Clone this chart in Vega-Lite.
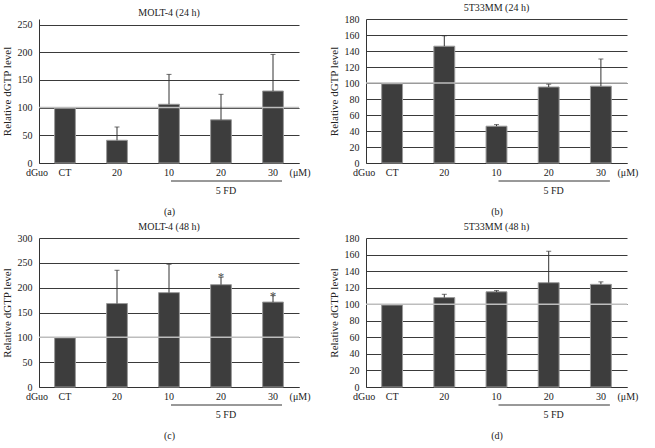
{
  "$schema": "https://vega.github.io/schema/vega-lite/v6.json",
  "background": "white",
  "padding": {"left": 1, "top": 3, "right": 5, "bottom": 5},
  "columns": 2,
  "spacing": {"row": 6, "column": 17},
  "datasets": {
    "a": [
      {"id": "CT", "v": 99},
      {"id": "dG20", "v": 41, "hi": 65},
      {"id": "FD10", "v": 106, "hi": 160},
      {"id": "FD20", "v": 78, "hi": 124},
      {"id": "FD30", "v": 130, "hi": 196}
    ],
    "b": [
      {"id": "CT", "v": 99},
      {"id": "dG20", "v": 146, "hi": 159},
      {"id": "FD10", "v": 46, "hi": 48},
      {"id": "FD20", "v": 95, "hi": 98.5},
      {"id": "FD30", "v": 96, "hi": 130}
    ],
    "c": [
      {"id": "CT", "v": 99},
      {"id": "dG20", "v": 168, "hi": 235},
      {"id": "FD10", "v": 190, "hi": 247},
      {"id": "FD20", "v": 206, "hi": 221, "sig": "*"},
      {"id": "FD30", "v": 171, "hi": 184, "sig": "*"}
    ],
    "d": [
      {"id": "CT", "v": 99},
      {"id": "dG20", "v": 108, "hi": 112},
      {"id": "FD10", "v": 115, "hi": 116.5},
      {"id": "FD20", "v": 126, "hi": 164},
      {"id": "FD30", "v": 124, "hi": 127}
    ]
  },
  "concat": [
    {
      "width": 260, "height": 144,
      "title": {"text": "MOLT-4 (24 h)"},
      "layer": [
        {"data": {"name": "a"}, "mark": {"type": "bar", "fill": "#3d3d3d", "stroke": "#9a9a9a", "strokeWidth": 1},
         "encoding": {
           "x": {"field": "id", "type": "nominal", "sort": null, "scale": {"domain": ["CT", "dG20", "FD10", "FD20", "FD30"], "paddingInner": 0.6, "paddingOuter": 0.3},
                 "axis": {"title": "(a)", "labelAngle": 0, "labelPadding": 4, "titlePadding": 29, "labelExpr": "replace(replace(datum.value,'dG',''),'FD','')"}},
           "y": {"field": "v", "type": "quantitative", "scale": {"domain": [0, 250]},
                 "axis": {"title": "Relative dGTP level", "values": [0, 50, 100, 150, 200, 250], "grid": true, "labelPadding": 7, "titlePadding": 5, "titleFontSize": 11}}
         }},
        {"data": {"values": [{"ref": 100}]}, "mark": {"type": "rule", "color": "#bdbdbd", "strokeWidth": 1.5},
         "encoding": {"y": {"field": "ref", "type": "quantitative", "axis": {"title": "Relative dGTP level", "values": [0, 50, 100, 150, 200, 250], "grid": true, "labelPadding": 7, "titlePadding": 5, "titleFontSize": 11}}}},
        {"data": {"name": "a"}, "transform": [{"filter": "isValid(datum.hi)"}], "mark": {"type": "rule", "color": "#333"},
         "encoding": {
           "x": {"field": "id", "type": "nominal", "axis": {"title": "(a)", "labelAngle": 0, "labelPadding": 4, "titlePadding": 29, "labelExpr": "replace(replace(datum.value,'dG',''),'FD','')"}},
           "y": {"field": "v", "type": "quantitative", "axis": {"title": "Relative dGTP level", "values": [0, 50, 100, 150, 200, 250], "grid": true, "labelPadding": 7, "titlePadding": 5, "titleFontSize": 11}},
           "y2": {"field": "hi"}}},
        {"data": {"name": "a"}, "transform": [{"filter": "isValid(datum.hi)"}], "mark": {"type": "tick", "orient": "horizontal", "color": "#333", "size": 5, "thickness": 1},
         "encoding": {
           "x": {"field": "id", "type": "nominal", "axis": {"title": "(a)", "labelAngle": 0, "labelPadding": 4, "titlePadding": 29, "labelExpr": "replace(replace(datum.value,'dG',''),'FD','')"}},
           "y": {"field": "hi", "type": "quantitative", "axis": {"title": "Relative dGTP level", "values": [0, 50, 100, 150, 200, 250], "grid": true, "labelPadding": 7, "titlePadding": 5, "titleFontSize": 11}}}},
        {"data": {"values": [{"t": "dGuo"}]}, "mark": {"type": "text", "dx": -28, "dy": 10, "baseline": "middle"},
         "encoding": {
           "x": {"datum": "CT", "type": "nominal", "axis": {"title": "(a)", "labelAngle": 0, "labelPadding": 4, "titlePadding": 29, "labelExpr": "replace(replace(datum.value,'dG',''),'FD','')"}},
           "y": {"datum": 0, "type": "quantitative", "axis": {"title": "Relative dGTP level", "values": [0, 50, 100, 150, 200, 250], "grid": true, "labelPadding": 7, "titlePadding": 5, "titleFontSize": 11}},
           "text": {"field": "t"}}},
        {"data": {"values": [{"t": "(μM)"}]}, "mark": {"type": "text", "dx": 27, "dy": 10, "baseline": "middle"},
         "encoding": {
           "x": {"datum": "FD30", "type": "nominal", "axis": {"title": "(a)", "labelAngle": 0, "labelPadding": 4, "titlePadding": 29, "labelExpr": "replace(replace(datum.value,'dG',''),'FD','')"}},
           "y": {"datum": 0, "type": "quantitative", "axis": {"title": "Relative dGTP level", "values": [0, 50, 100, 150, 200, 250], "grid": true, "labelPadding": 7, "titlePadding": 5, "titleFontSize": 11}},
           "text": {"field": "t"}}},
        {"data": {"values": [{"t": "5 FD"}]}, "mark": {"type": "rule", "color": "#333", "xOffset": 2, "x2Offset": 9, "yOffset": 18},
         "encoding": {
           "x": {"datum": "FD10", "type": "nominal", "axis": {"title": "(a)", "labelAngle": 0, "labelPadding": 4, "titlePadding": 29, "labelExpr": "replace(replace(datum.value,'dG',''),'FD','')"}},
           "x2": {"datum": "FD30"},
           "y": {"datum": 0, "type": "quantitative", "axis": {"title": "Relative dGTP level", "values": [0, 50, 100, 150, 200, 250], "grid": true, "labelPadding": 7, "titlePadding": 5, "titleFontSize": 11}}}},
        {"data": {"values": [{"t": "5 FD"}]}, "mark": {"type": "text", "dx": 5, "dy": 28, "baseline": "middle"},
         "encoding": {
           "x": {"datum": "FD20", "type": "nominal", "axis": {"title": "(a)", "labelAngle": 0, "labelPadding": 4, "titlePadding": 29, "labelExpr": "replace(replace(datum.value,'dG',''),'FD','')"}},
           "y": {"datum": 0, "type": "quantitative", "axis": {"title": "Relative dGTP level", "values": [0, 50, 100, 150, 200, 250], "grid": true, "labelPadding": 7, "titlePadding": 5, "titleFontSize": 11}},
           "text": {"field": "t"}}}
      ]
    },
    {
      "width": 261, "height": 144,
      "title": {"text": "5T33MM (24 h)"},
      "layer": [
        {"data": {"name": "b"}, "mark": {"type": "bar", "fill": "#3d3d3d", "stroke": "#9a9a9a", "strokeWidth": 1},
         "encoding": {
           "x": {"field": "id", "type": "nominal", "sort": null, "scale": {"domain": ["CT", "dG20", "FD10", "FD20", "FD30"], "paddingInner": 0.6, "paddingOuter": 0.3},
                 "axis": {"title": "(b)", "labelAngle": 0, "labelPadding": 4, "titlePadding": 29, "labelExpr": "replace(replace(datum.value,'dG',''),'FD','')"}},
           "y": {"field": "v", "type": "quantitative", "scale": {"domain": [0, 180]},
                 "axis": {"title": "Relative dGTP level", "values": [0, 20, 40, 60, 80, 100, 120, 140, 160, 180], "grid": true, "labelPadding": 7, "titlePadding": 5, "titleFontSize": 11}}
         }},
        {"data": {"values": [{"ref": 100}]}, "mark": {"type": "rule", "color": "#bdbdbd", "strokeWidth": 1.5},
         "encoding": {"y": {"field": "ref", "type": "quantitative", "axis": {"title": "Relative dGTP level", "values": [0, 20, 40, 60, 80, 100, 120, 140, 160, 180], "grid": true, "labelPadding": 7, "titlePadding": 5, "titleFontSize": 11}}}},
        {"data": {"name": "b"}, "transform": [{"filter": "isValid(datum.hi)"}], "mark": {"type": "rule", "color": "#333"},
         "encoding": {
           "x": {"field": "id", "type": "nominal", "axis": {"title": "(b)", "labelAngle": 0, "labelPadding": 4, "titlePadding": 29, "labelExpr": "replace(replace(datum.value,'dG',''),'FD','')"}},
           "y": {"field": "v", "type": "quantitative", "axis": {"title": "Relative dGTP level", "values": [0, 20, 40, 60, 80, 100, 120, 140, 160, 180], "grid": true, "labelPadding": 7, "titlePadding": 5, "titleFontSize": 11}},
           "y2": {"field": "hi"}}},
        {"data": {"name": "b"}, "transform": [{"filter": "isValid(datum.hi)"}], "mark": {"type": "tick", "orient": "horizontal", "color": "#333", "size": 5, "thickness": 1},
         "encoding": {
           "x": {"field": "id", "type": "nominal", "axis": {"title": "(b)", "labelAngle": 0, "labelPadding": 4, "titlePadding": 29, "labelExpr": "replace(replace(datum.value,'dG',''),'FD','')"}},
           "y": {"field": "hi", "type": "quantitative", "axis": {"title": "Relative dGTP level", "values": [0, 20, 40, 60, 80, 100, 120, 140, 160, 180], "grid": true, "labelPadding": 7, "titlePadding": 5, "titleFontSize": 11}}}},
        {"data": {"values": [{"t": "dGuo"}]}, "mark": {"type": "text", "dx": -28, "dy": 10, "baseline": "middle"},
         "encoding": {
           "x": {"datum": "CT", "type": "nominal", "axis": {"title": "(b)", "labelAngle": 0, "labelPadding": 4, "titlePadding": 29, "labelExpr": "replace(replace(datum.value,'dG',''),'FD','')"}},
           "y": {"datum": 0, "type": "quantitative", "axis": {"title": "Relative dGTP level", "values": [0, 20, 40, 60, 80, 100, 120, 140, 160, 180], "grid": true, "labelPadding": 7, "titlePadding": 5, "titleFontSize": 11}},
           "text": {"field": "t"}}},
        {"data": {"values": [{"t": "(μM)"}]}, "mark": {"type": "text", "dx": 27, "dy": 10, "baseline": "middle"},
         "encoding": {
           "x": {"datum": "FD30", "type": "nominal", "axis": {"title": "(b)", "labelAngle": 0, "labelPadding": 4, "titlePadding": 29, "labelExpr": "replace(replace(datum.value,'dG',''),'FD','')"}},
           "y": {"datum": 0, "type": "quantitative", "axis": {"title": "Relative dGTP level", "values": [0, 20, 40, 60, 80, 100, 120, 140, 160, 180], "grid": true, "labelPadding": 7, "titlePadding": 5, "titleFontSize": 11}},
           "text": {"field": "t"}}},
        {"data": {"values": [{"t": "5 FD"}]}, "mark": {"type": "rule", "color": "#333", "xOffset": 2, "x2Offset": 9, "yOffset": 18},
         "encoding": {
           "x": {"datum": "FD10", "type": "nominal", "axis": {"title": "(b)", "labelAngle": 0, "labelPadding": 4, "titlePadding": 29, "labelExpr": "replace(replace(datum.value,'dG',''),'FD','')"}},
           "x2": {"datum": "FD30"},
           "y": {"datum": 0, "type": "quantitative", "axis": {"title": "Relative dGTP level", "values": [0, 20, 40, 60, 80, 100, 120, 140, 160, 180], "grid": true, "labelPadding": 7, "titlePadding": 5, "titleFontSize": 11}}}},
        {"data": {"values": [{"t": "5 FD"}]}, "mark": {"type": "text", "dx": 5, "dy": 28, "baseline": "middle"},
         "encoding": {
           "x": {"datum": "FD20", "type": "nominal", "axis": {"title": "(b)", "labelAngle": 0, "labelPadding": 4, "titlePadding": 29, "labelExpr": "replace(replace(datum.value,'dG',''),'FD','')"}},
           "y": {"datum": 0, "type": "quantitative", "axis": {"title": "Relative dGTP level", "values": [0, 20, 40, 60, 80, 100, 120, 140, 160, 180], "grid": true, "labelPadding": 7, "titlePadding": 5, "titleFontSize": 11}},
           "text": {"field": "t"}}}
      ]
    },
    {
      "width": 260, "height": 149,
      "title": {"text": "MOLT-4 (48 h)"},
      "layer": [
        {"data": {"name": "c"}, "mark": {"type": "bar", "fill": "#3d3d3d", "stroke": "#9a9a9a", "strokeWidth": 1},
         "encoding": {
           "x": {"field": "id", "type": "nominal", "sort": null, "scale": {"domain": ["CT", "dG20", "FD10", "FD20", "FD30"], "paddingInner": 0.6, "paddingOuter": 0.3},
                 "axis": {"title": "(c)", "labelAngle": 0, "labelPadding": 4, "titlePadding": 29, "labelExpr": "replace(replace(datum.value,'dG',''),'FD','')"}},
           "y": {"field": "v", "type": "quantitative", "scale": {"domain": [0, 300]},
                 "axis": {"title": "Relative dGTP level", "values": [0, 50, 100, 150, 200, 250, 300], "grid": true, "labelPadding": 7, "titlePadding": 5, "titleFontSize": 11}}
         }},
        {"data": {"values": [{"ref": 100}]}, "mark": {"type": "rule", "color": "#bdbdbd", "strokeWidth": 1.5},
         "encoding": {"y": {"field": "ref", "type": "quantitative", "axis": {"title": "Relative dGTP level", "values": [0, 50, 100, 150, 200, 250, 300], "grid": true, "labelPadding": 7, "titlePadding": 5, "titleFontSize": 11}}}},
        {"data": {"name": "c"}, "transform": [{"filter": "isValid(datum.hi)"}], "mark": {"type": "rule", "color": "#333"},
         "encoding": {
           "x": {"field": "id", "type": "nominal", "axis": {"title": "(c)", "labelAngle": 0, "labelPadding": 4, "titlePadding": 29, "labelExpr": "replace(replace(datum.value,'dG',''),'FD','')"}},
           "y": {"field": "v", "type": "quantitative", "axis": {"title": "Relative dGTP level", "values": [0, 50, 100, 150, 200, 250, 300], "grid": true, "labelPadding": 7, "titlePadding": 5, "titleFontSize": 11}},
           "y2": {"field": "hi"}}},
        {"data": {"name": "c"}, "transform": [{"filter": "isValid(datum.hi)"}], "mark": {"type": "tick", "orient": "horizontal", "color": "#333", "size": 5, "thickness": 1},
         "encoding": {
           "x": {"field": "id", "type": "nominal", "axis": {"title": "(c)", "labelAngle": 0, "labelPadding": 4, "titlePadding": 29, "labelExpr": "replace(replace(datum.value,'dG',''),'FD','')"}},
           "y": {"field": "hi", "type": "quantitative", "axis": {"title": "Relative dGTP level", "values": [0, 50, 100, 150, 200, 250, 300], "grid": true, "labelPadding": 7, "titlePadding": 5, "titleFontSize": 11}}}},
        {"data": {"name": "c"}, "transform": [{"filter": "isValid(datum.sig)"}], "mark": {"type": "text", "fontSize": 13, "baseline": "alphabetic", "dy": 4, "fill": "#555"},
         "encoding": {
           "x": {"field": "id", "type": "nominal", "axis": {"title": "(c)", "labelAngle": 0, "labelPadding": 4, "titlePadding": 29, "labelExpr": "replace(replace(datum.value,'dG',''),'FD','')"}},
           "y": {"field": "hi", "type": "quantitative", "axis": {"title": "Relative dGTP level", "values": [0, 50, 100, 150, 200, 250, 300], "grid": true, "labelPadding": 7, "titlePadding": 5, "titleFontSize": 11}},
           "text": {"field": "sig"}}},
        {"data": {"values": [{"t": "dGuo"}]}, "mark": {"type": "text", "dx": -28, "dy": 10, "baseline": "middle"},
         "encoding": {
           "x": {"datum": "CT", "type": "nominal", "axis": {"title": "(c)", "labelAngle": 0, "labelPadding": 4, "titlePadding": 29, "labelExpr": "replace(replace(datum.value,'dG',''),'FD','')"}},
           "y": {"datum": 0, "type": "quantitative", "axis": {"title": "Relative dGTP level", "values": [0, 50, 100, 150, 200, 250, 300], "grid": true, "labelPadding": 7, "titlePadding": 5, "titleFontSize": 11}},
           "text": {"field": "t"}}},
        {"data": {"values": [{"t": "(μM)"}]}, "mark": {"type": "text", "dx": 27, "dy": 10, "baseline": "middle"},
         "encoding": {
           "x": {"datum": "FD30", "type": "nominal", "axis": {"title": "(c)", "labelAngle": 0, "labelPadding": 4, "titlePadding": 29, "labelExpr": "replace(replace(datum.value,'dG',''),'FD','')"}},
           "y": {"datum": 0, "type": "quantitative", "axis": {"title": "Relative dGTP level", "values": [0, 50, 100, 150, 200, 250, 300], "grid": true, "labelPadding": 7, "titlePadding": 5, "titleFontSize": 11}},
           "text": {"field": "t"}}},
        {"data": {"values": [{"t": "5 FD"}]}, "mark": {"type": "rule", "color": "#333", "xOffset": 2, "x2Offset": 9, "yOffset": 18},
         "encoding": {
           "x": {"datum": "FD10", "type": "nominal", "axis": {"title": "(c)", "labelAngle": 0, "labelPadding": 4, "titlePadding": 29, "labelExpr": "replace(replace(datum.value,'dG',''),'FD','')"}},
           "x2": {"datum": "FD30"},
           "y": {"datum": 0, "type": "quantitative", "axis": {"title": "Relative dGTP level", "values": [0, 50, 100, 150, 200, 250, 300], "grid": true, "labelPadding": 7, "titlePadding": 5, "titleFontSize": 11}}}},
        {"data": {"values": [{"t": "5 FD"}]}, "mark": {"type": "text", "dx": 5, "dy": 28, "baseline": "middle"},
         "encoding": {
           "x": {"datum": "FD20", "type": "nominal", "axis": {"title": "(c)", "labelAngle": 0, "labelPadding": 4, "titlePadding": 29, "labelExpr": "replace(replace(datum.value,'dG',''),'FD','')"}},
           "y": {"datum": 0, "type": "quantitative", "axis": {"title": "Relative dGTP level", "values": [0, 50, 100, 150, 200, 250, 300], "grid": true, "labelPadding": 7, "titlePadding": 5, "titleFontSize": 11}},
           "text": {"field": "t"}}}
      ]
    },
    {
      "width": 261, "height": 149,
      "title": {"text": "5T33MM (48 h)"},
      "layer": [
        {"data": {"name": "d"}, "mark": {"type": "bar", "fill": "#3d3d3d", "stroke": "#9a9a9a", "strokeWidth": 1},
         "encoding": {
           "x": {"field": "id", "type": "nominal", "sort": null, "scale": {"domain": ["CT", "dG20", "FD10", "FD20", "FD30"], "paddingInner": 0.6, "paddingOuter": 0.3},
                 "axis": {"title": "(d)", "labelAngle": 0, "labelPadding": 4, "titlePadding": 29, "labelExpr": "replace(replace(datum.value,'dG',''),'FD','')"}},
           "y": {"field": "v", "type": "quantitative", "scale": {"domain": [0, 180]},
                 "axis": {"title": "Relative dGTP level", "values": [0, 20, 40, 60, 80, 100, 120, 140, 160, 180], "grid": true, "labelPadding": 7, "titlePadding": 5, "titleFontSize": 11}}
         }},
        {"data": {"values": [{"ref": 100}]}, "mark": {"type": "rule", "color": "#bdbdbd", "strokeWidth": 1.5},
         "encoding": {"y": {"field": "ref", "type": "quantitative", "axis": {"title": "Relative dGTP level", "values": [0, 20, 40, 60, 80, 100, 120, 140, 160, 180], "grid": true, "labelPadding": 7, "titlePadding": 5, "titleFontSize": 11}}}},
        {"data": {"name": "d"}, "transform": [{"filter": "isValid(datum.hi)"}], "mark": {"type": "rule", "color": "#333"},
         "encoding": {
           "x": {"field": "id", "type": "nominal", "axis": {"title": "(d)", "labelAngle": 0, "labelPadding": 4, "titlePadding": 29, "labelExpr": "replace(replace(datum.value,'dG',''),'FD','')"}},
           "y": {"field": "v", "type": "quantitative", "axis": {"title": "Relative dGTP level", "values": [0, 20, 40, 60, 80, 100, 120, 140, 160, 180], "grid": true, "labelPadding": 7, "titlePadding": 5, "titleFontSize": 11}},
           "y2": {"field": "hi"}}},
        {"data": {"name": "d"}, "transform": [{"filter": "isValid(datum.hi)"}], "mark": {"type": "tick", "orient": "horizontal", "color": "#333", "size": 5, "thickness": 1},
         "encoding": {
           "x": {"field": "id", "type": "nominal", "axis": {"title": "(d)", "labelAngle": 0, "labelPadding": 4, "titlePadding": 29, "labelExpr": "replace(replace(datum.value,'dG',''),'FD','')"}},
           "y": {"field": "hi", "type": "quantitative", "axis": {"title": "Relative dGTP level", "values": [0, 20, 40, 60, 80, 100, 120, 140, 160, 180], "grid": true, "labelPadding": 7, "titlePadding": 5, "titleFontSize": 11}}}},
        {"data": {"values": [{"t": "dGuo"}]}, "mark": {"type": "text", "dx": -28, "dy": 10, "baseline": "middle"},
         "encoding": {
           "x": {"datum": "CT", "type": "nominal", "axis": {"title": "(d)", "labelAngle": 0, "labelPadding": 4, "titlePadding": 29, "labelExpr": "replace(replace(datum.value,'dG',''),'FD','')"}},
           "y": {"datum": 0, "type": "quantitative", "axis": {"title": "Relative dGTP level", "values": [0, 20, 40, 60, 80, 100, 120, 140, 160, 180], "grid": true, "labelPadding": 7, "titlePadding": 5, "titleFontSize": 11}},
           "text": {"field": "t"}}},
        {"data": {"values": [{"t": "(μM)"}]}, "mark": {"type": "text", "dx": 27, "dy": 10, "baseline": "middle"},
         "encoding": {
           "x": {"datum": "FD30", "type": "nominal", "axis": {"title": "(d)", "labelAngle": 0, "labelPadding": 4, "titlePadding": 29, "labelExpr": "replace(replace(datum.value,'dG',''),'FD','')"}},
           "y": {"datum": 0, "type": "quantitative", "axis": {"title": "Relative dGTP level", "values": [0, 20, 40, 60, 80, 100, 120, 140, 160, 180], "grid": true, "labelPadding": 7, "titlePadding": 5, "titleFontSize": 11}},
           "text": {"field": "t"}}},
        {"data": {"values": [{"t": "5 FD"}]}, "mark": {"type": "rule", "color": "#333", "xOffset": 2, "x2Offset": 9, "yOffset": 18},
         "encoding": {
           "x": {"datum": "FD10", "type": "nominal", "axis": {"title": "(d)", "labelAngle": 0, "labelPadding": 4, "titlePadding": 29, "labelExpr": "replace(replace(datum.value,'dG',''),'FD','')"}},
           "x2": {"datum": "FD30"},
           "y": {"datum": 0, "type": "quantitative", "axis": {"title": "Relative dGTP level", "values": [0, 20, 40, 60, 80, 100, 120, 140, 160, 180], "grid": true, "labelPadding": 7, "titlePadding": 5, "titleFontSize": 11}}}},
        {"data": {"values": [{"t": "5 FD"}]}, "mark": {"type": "text", "dx": 5, "dy": 28, "baseline": "middle"},
         "encoding": {
           "x": {"datum": "FD20", "type": "nominal", "axis": {"title": "(d)", "labelAngle": 0, "labelPadding": 4, "titlePadding": 29, "labelExpr": "replace(replace(datum.value,'dG',''),'FD','')"}},
           "y": {"datum": 0, "type": "quantitative", "axis": {"title": "Relative dGTP level", "values": [0, 20, 40, 60, 80, 100, 120, 140, 160, 180], "grid": true, "labelPadding": 7, "titlePadding": 5, "titleFontSize": 11}},
           "text": {"field": "t"}}}
      ]
    }
  ],
  "config": {
    "font": "Liberation Serif",
    "view": {"stroke": null},
    "axis": {
      "labelFont": "Liberation Serif", "titleFont": "Liberation Serif",
      "labelFontSize": 10, "titleFontSize": 10, "titleFontWeight": "normal",
      "labelColor": "#222", "titleColor": "#222",
      "domainColor": "#333", "ticks": false,
      "gridColor": "#3a3a3a", "gridOpacity": 1
    },
    "title": {"font": "Liberation Serif", "fontSize": 10, "fontWeight": "normal", "color": "#222", "offset": 1},
    "text": {"font": "Liberation Serif", "fontSize": 10, "color": "#222"}
  }
}
